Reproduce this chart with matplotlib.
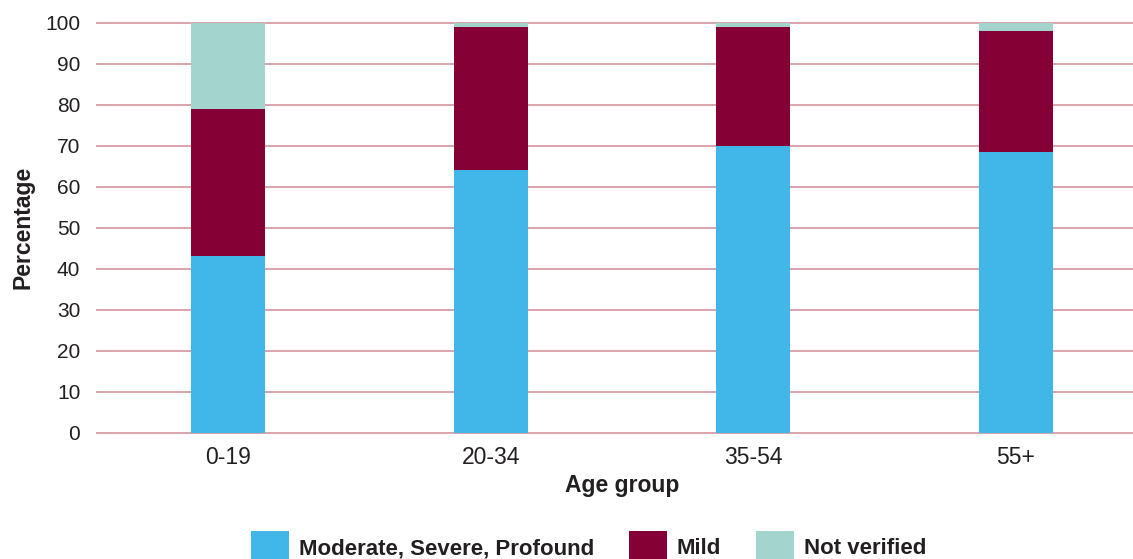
import matplotlib
matplotlib.use("Agg")
import matplotlib.pyplot as plt
import numpy as np

# Hearing-loss severity by age group (percent of each group)
age_groups = ["0-19", "20-34", "35-54", "55+"]
moderate_severe_profound = [43, 64, 70, 68.5]
mild = [36, 35, 29, 29.5]
not_verified = [21, 1, 1, 2]

series_labels = ["Moderate, Severe, Profound", "Mild", "Not verified"]
series_colors = ["#41b6e8", "#840035", "#a3d5ce"]
y_ticks = list(range(0, 101, 10))

plt.rcParams["font.family"] = ["Liberation Sans", "DejaVu Sans"]
text_color = "#231f20"
grid_color = "#d9a3ab"

W, H = 1133, 559
fig = plt.figure(figsize=(W / 100, H / 100), dpi=100)
ax = fig.add_axes([97 / W, 1 - 432.5 / H, 1050 / W, 410 / H])

x = np.arange(len(age_groups))
bar_w = 0.282
bottom = np.zeros(len(age_groups))
handles = []
for vals, lab, col in zip([moderate_severe_profound, mild, not_verified],
                          series_labels, series_colors):
    b = ax.bar(x, vals, bar_w, bottom=bottom, color=col, label=lab,
               zorder=3, linewidth=0)
    bottom += np.array(vals)
    handles.append(b)

ax.set_xlim(-0.5, 3.5)
ax.set_ylim(0, 100)
ax.set_yticks(y_ticks)
ax.set_xticks(x)
ax.set_xticklabels(age_groups)
ax.yaxis.grid(True, color=grid_color, linewidth=1.4, zorder=0)
for gl in ax.get_ygridlines():
    gl.set_clip_on(False)
ax.set_axisbelow(True)
for s in ax.spines.values():
    s.set_visible(False)
ax.tick_params(axis="both", length=0, colors=text_color)
ax.tick_params(axis="y", pad=12, labelsize=15)
ax.tick_params(axis="x", pad=10, labelsize=16.5)

ax.set_xlabel("Age group", fontsize=16.5, fontweight="bold", color=text_color,
              labelpad=3)
ax.set_ylabel("Percentage", fontsize=16.5, fontweight="bold", color=text_color)
ax.yaxis.set_label_coords(-62 / 1050, 0.5)

leg = fig.legend(handles=handles, labels=series_labels, loc="center",
                 bbox_to_anchor=(588.5 / W, 1 - 547 / H), ncol=3, frameon=False,
                 prop={"weight": "bold", "size": 16},
                 handlelength=1.7, handleheight=1.9, handletextpad=0.45,
                 columnspacing=1.57)
for t in leg.get_texts():
    t.set_color(text_color)

fig.savefig("out.png", dpi=100)
